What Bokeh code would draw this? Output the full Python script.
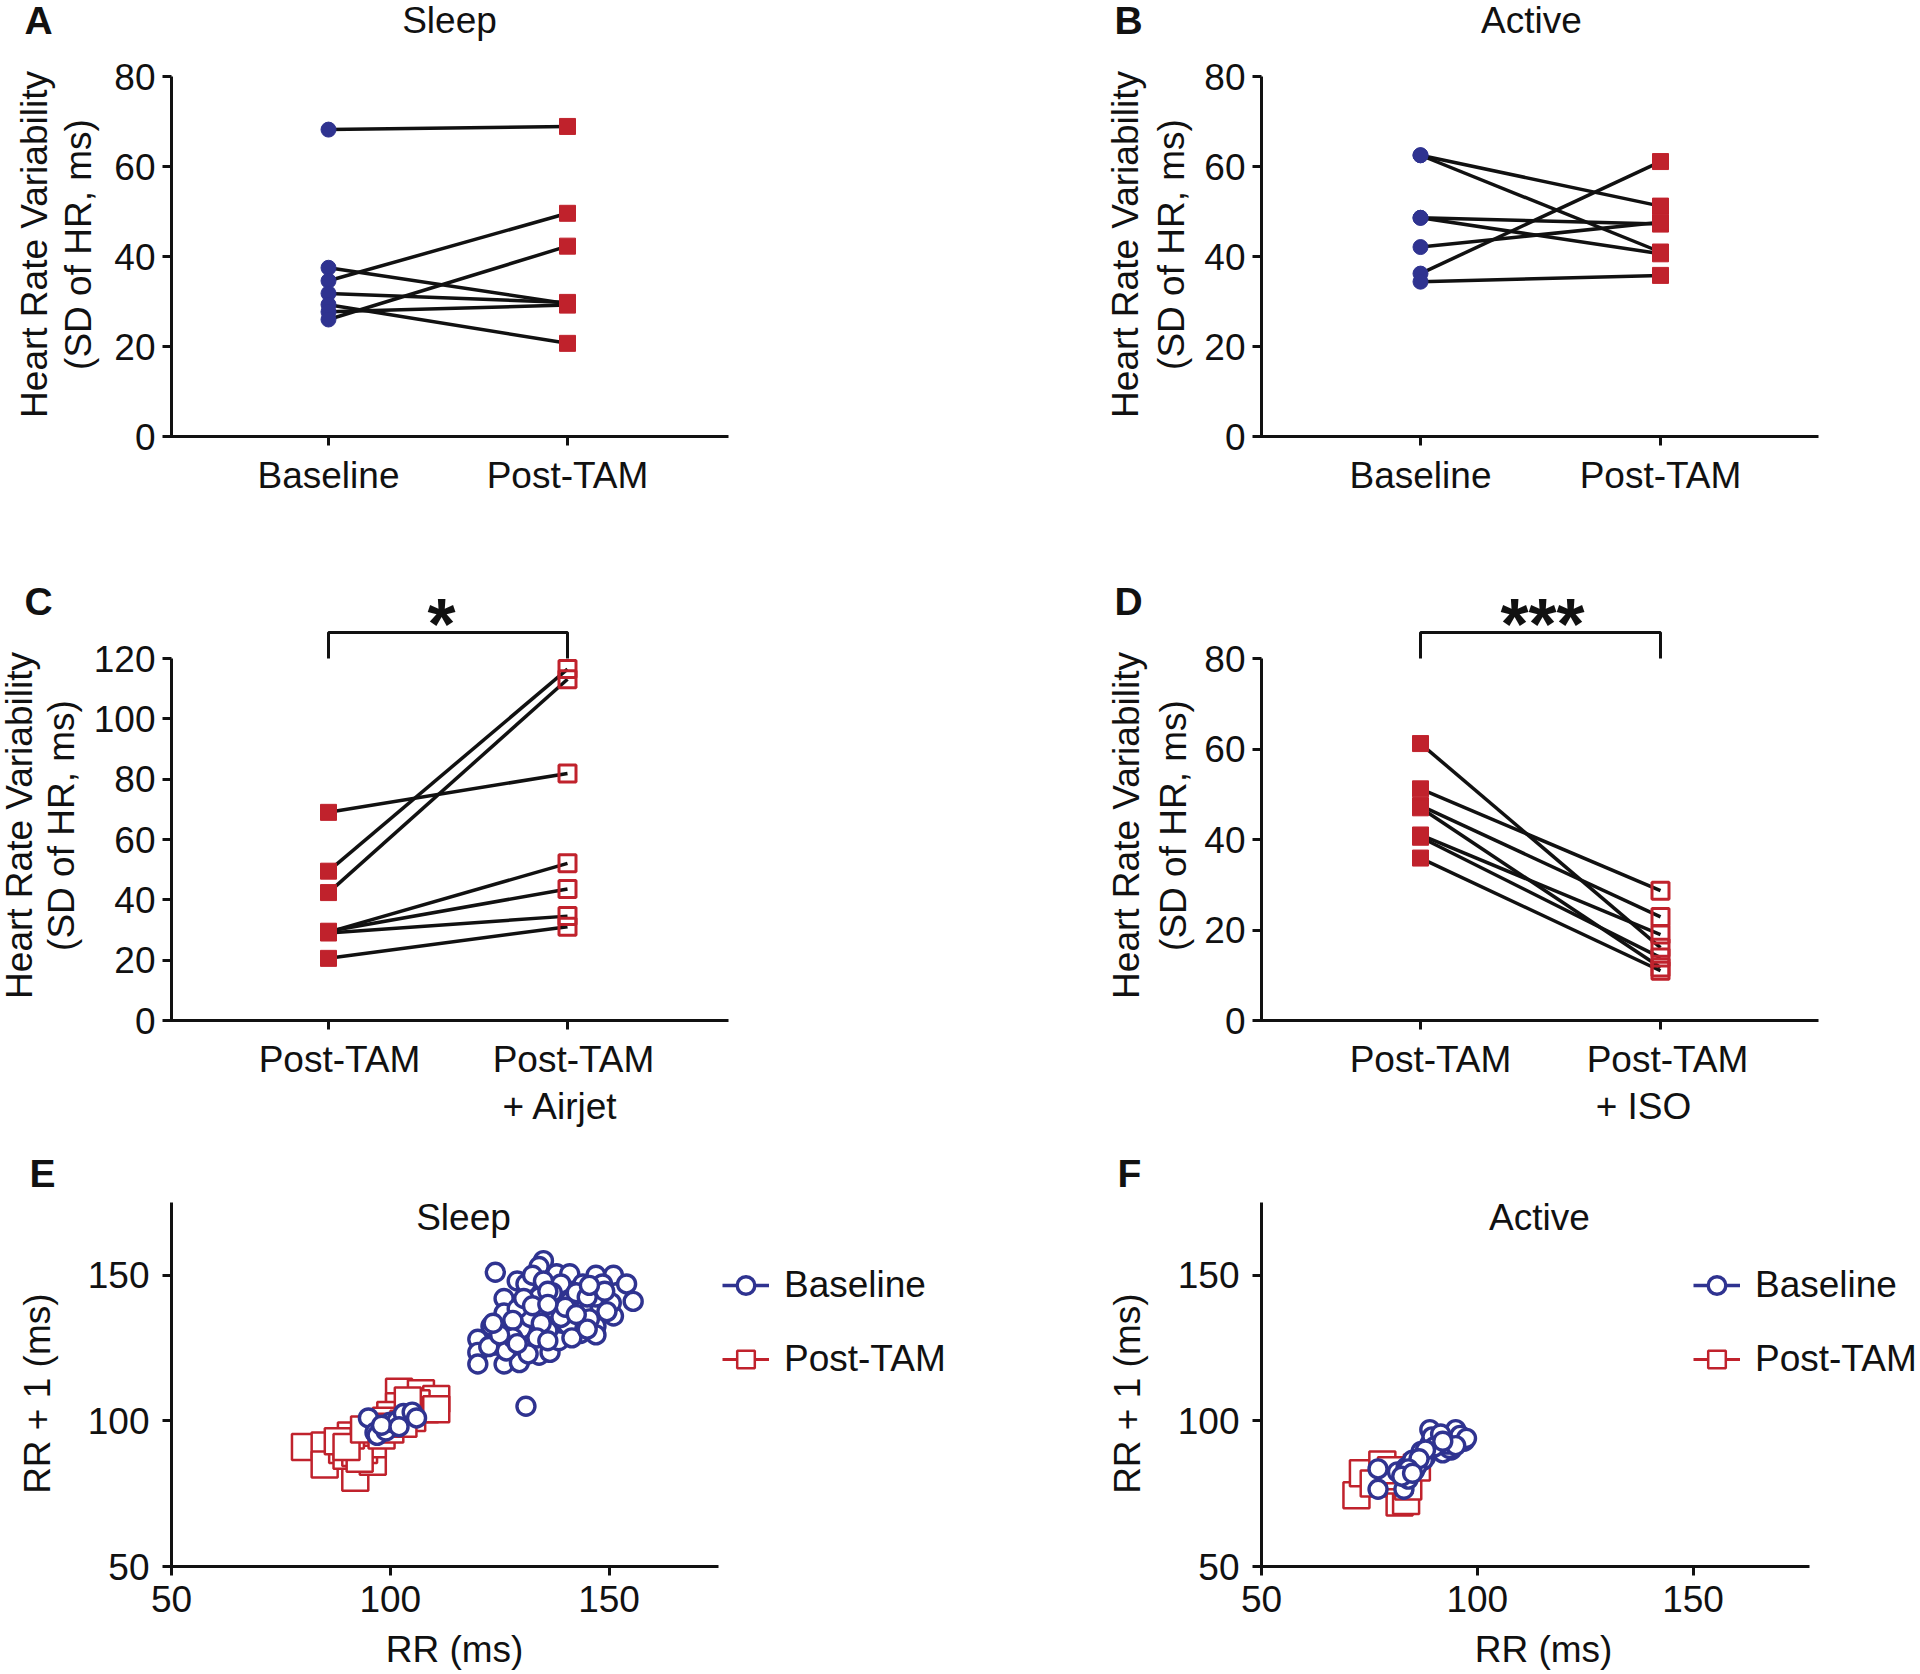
import math
from bokeh.plotting import figure
from bokeh.models import Range1d, FixedTicker, Label, Legend, LegendItem
from bokeh.layouts import column, row
from bokeh.embed import file_html
from bokeh.resources import INLINE

# ---------------- data ----------------
pair_ticks = [1, 2]

# A: Sleep
sleep_labels = ["Baseline", "Post-TAM"]
sleep_base = [68.2, 37.5, 34.6, 31.8, 29.3, 27.7, 26.0]
sleep_post = [68.9, 29.5, 49.6, 29.8, 20.7, 29.2, 42.3]

# B: Active
active_labels = ["Baseline", "Post-TAM"]
active_base = [62.5, 62.5, 48.6, 48.6, 42.1, 36.2, 34.4]
active_post = [51.2, 41.0, 47.2, 40.6, 47.6, 61.1, 35.8]

# C: Post-TAM vs Post-TAM + Airjet
airjet_labels = ["Post-TAM", "Post-TAM", "+ Airjet"]
airjet_pre = [69.0, 49.5, 42.4, 29.3, 29.6, 29.0, 20.6]
airjet_post = [81.9, 116.5, 113.1, 52.1, 43.6, 34.6, 31.1]

# D: Post-TAM vs Post-TAM + ISO
iso_labels = ["Post-TAM", "Post-TAM", "+ ISO"]
iso_pre = [61.2, 51.2, 47.5, 47.0, 41.0, 40.5, 35.9]
iso_post = [16.1, 28.7, 22.9, 11.7, 19.0, 13.9, 11.0]

hrv_ticks_80 = [0, 20, 40, 60, 80]
hrv_ticks_120 = [0, 20, 40, 60, 80, 100, 120]
rr_ticks = [50, 100, 150]

# E: Poincare, Sleep
e_base_x = [124, 135, 134, 138, 141, 147, 151, 154, 155.5, 151, 148.5, 144, 139, 132, 129,
            126, 126, 123, 120, 120, 120, 126, 124, 129.5, 131, 134, 136.5, 138.5, 136, 130,
            132, 129, 134, 137, 141, 144, 147, 147, 147, 143.5, 140.5, 142.5, 145, 150.5, 131,
            132.5, 126.5, 122.5, 134.5, 137.5, 128, 128, 133.5, 139, 140, 145.5, 149.5, 149,
            145.5, 135, 136, 130.5, 132.5, 136, 142.5, 141.5, 145, 136, 131.5, 129, 125, 123.5,
            131,
            95, 96.5, 97, 99, 100, 101.5, 103, 105, 106, 98, 102]
e_base_y = [151, 155, 153, 150.5, 150.5, 150, 150, 147, 141, 136, 147, 147, 147, 147, 148,
            142, 137, 132.5, 128, 123.5, 119.5, 119.5, 126, 120, 126, 122.5, 123.5, 127.5, 131, 131.5,
            135.5, 138.5, 142.5, 144, 141, 138, 142.5, 132.5, 129.5, 130, 133, 144, 142.5, 140.5, 147,
            150, 124, 125.5, 133.5, 138, 134.5, 128.5, 128.5, 135.5, 139, 135, 137.5, 144.5,
            146.5, 148, 144.5, 142, 139.5, 140, 136.5, 128.5, 131.5, 127.5, 123, 126.5, 129.5, 133.5,
            105,
            101, 96, 95, 96.5, 99.5, 100, 102.5, 103, 101, 98.5, 98]
e_post_x = [80.5, 85, 85, 92, 96, 102, 107, 110.5, 102, 108, 105, 100, 99, 97, 95, 93, 91,
            89, 90, 92, 94, 96, 93, 91, 88, 90, 94, 98, 100, 103, 106, 110.5, 104]
e_post_y = [91, 91.5, 85, 80.5, 86, 110, 109.5, 107.5, 105, 104, 101, 102, 100, 98, 96, 94, 92,
            90, 88, 89, 90, 92, 87, 95, 93, 91, 97, 95, 97, 99, 106, 104, 107]

# F: Poincare, Active
f_base_x = [77, 77, 83, 81.5, 83.5, 85, 87, 89, 89, 90.5, 91, 93, 95, 97, 94, 92, 88, 85.5,
            84.5, 84, 95.5, 93.5, 89.5, 87.5, 86, 91.5, 96, 93, 90, 88, 86.5, 84, 82.5, 85,
            97.5, 95, 92]
f_base_y = [83.5, 76.5, 76.5, 82.5, 84, 86.5, 89.5, 92, 97, 93.5, 90.5, 94.5, 97, 93, 90, 89,
            87.5, 83, 81.5, 80, 93.5, 90.5, 94.5, 86.5, 84.5, 95.5, 95, 92, 91, 90, 87, 83.5,
            81, 82, 94, 91.5, 93]
f_post_x = [72, 73.5, 78, 82, 83.5, 84, 82, 78.5, 76, 80, 86]
f_post_y = [74.5, 82, 85, 72, 72.5, 77.5, 79.5, 81, 78.5, 83, 84]

# ---------------- style ----------------
FONT = "Liberation Sans"
FS = "37px"
BLUE = "#2f3390"
RED = "#c0222c"
BLACK = "#111111"
VERT = math.pi / 2
NAN = float("nan")


class Panel:
    """A figure whose frame fills the whole figure; page positions map linearly to data."""

    def __init__(self, fx, fy, W, H, xmap, ymap):
        self.xd0, self.xp0, xd1, xp1 = xmap
        self.xs = (xd1 - self.xd0) / (xp1 - self.xp0)
        self.yd0, self.yp0, yd1, yp1 = ymap
        self.ys = (yd1 - self.yd0) / (yp1 - self.yp0)
        self.p = figure(width=W, height=H, min_border=0,
                        x_range=Range1d(self.dx(fx), self.dx(fx + W)),
                        y_range=Range1d(self.dy(fy + H), self.dy(fy)),
                        output_backend="svg", toolbar_location=None)
        p = self.p
        p.xgrid.visible = False
        p.ygrid.visible = False
        p.outline_line_color = None
        p.border_fill_color = "white"
        p.background_fill_color = "white"

    def dx(self, px):
        return self.xd0 + (px - self.xp0) * self.xs

    def dy(self, py):
        return self.yd0 + (py - self.yp0) * self.ys

    def text(self, t, px, py, size=FS, bold=False, angle=0.0, align="center",
             baseline="middle"):
        self.p.add_layout(Label(x=self.dx(px), y=self.dy(py), text=t, angle=angle,
                                text_font=FONT, text_font_size=size,
                                text_font_style="bold" if bold else "normal",
                                text_align=align, text_baseline=baseline,
                                text_color=BLACK))

    def axes(self, xticks, yticks, xloc, yloc, xbounds, ybounds, xoverrides=None,
             xlbl_standoff=9, ylbl_standoff=7):
        p = self.p
        p.xaxis.ticker = FixedTicker(ticks=xticks)
        p.yaxis.ticker = FixedTicker(ticks=yticks)
        if xoverrides:
            p.xaxis.major_label_overrides = xoverrides
        p.xaxis.fixed_location = xloc
        p.yaxis.fixed_location = yloc
        p.xaxis.bounds = xbounds
        p.yaxis.bounds = ybounds
        for ax in (p.xaxis[0], p.yaxis[0]):
            ax.axis_line_width = 3
            ax.axis_line_color = BLACK
            ax.major_tick_line_width = 3
            ax.major_tick_line_color = BLACK
            ax.major_tick_out = 9
            ax.major_tick_in = 0
            ax.minor_tick_line_color = None
            ax.major_label_text_font = FONT
            ax.major_label_text_font_size = FS
            ax.major_label_text_color = BLACK
        p.yaxis.major_label_standoff = ylbl_standoff
        p.xaxis.major_label_standoff = xlbl_standoff


def pair_panel(fx, fy, W, H, tick_px, ymap, pre, post, labels, ymax, yticks,
               pre_kind, post_kind, axis_px, xend_px, ylab_px, ylab_py, label_pos=None):
    pn = Panel(fx, fy, W, H, (pair_ticks[0], tick_px[0], pair_ticks[1], tick_px[1]), ymap)
    p = pn.p
    for a, b in zip(pre, post):
        p.line(x=pair_ticks, y=[a, b], line_color=BLACK, line_width=3.5)
    xs_pre = [pair_ticks[0]] * len(pre)
    xs_post = [pair_ticks[1]] * len(post)
    for xs, ys, kind in ((xs_pre, pre, pre_kind), (xs_post, post, post_kind)):
        if kind == "circle":
            p.scatter(x=xs, y=ys, marker="circle", size=15, fill_color=BLUE,
                      line_color=BLUE, line_width=1)
        elif kind == "square":
            p.scatter(x=xs, y=ys, marker="square", size=16, fill_color=RED,
                      line_color=RED, line_width=1)
        else:
            p.scatter(x=xs, y=ys, marker="square", size=17, fill_color="white",
                      fill_alpha=0.0, line_color=RED, line_width=3)
    x0 = pn.dx(axis_px)
    if label_pos is None:
        overrides = {pair_ticks[0]: labels[0], pair_ticks[1]: labels[1]}
    else:
        overrides = {pair_ticks[0]: "", pair_ticks[1]: ""}
    pn.axes(pair_ticks, yticks, 0, x0, (pn.dx(axis_px - 6), pn.dx(xend_px)), (0, ymax),
            xoverrides=overrides)
    if label_pos is not None:
        for t, (lx, ly) in zip(labels, label_pos):
            pn.text(t, lx, ly)
    pn.text("Heart Rate Variability", ylab_px[0], ylab_py, angle=VERT)
    pn.text("(SD of HR, ms)", ylab_px[1], ylab_py, angle=VERT)
    return pn


def bracket(pn, ybase, ybar_px, stars, star_px, star_py):
    ytop = pn.dy(ybar_px)
    pn.p.line(x=[pair_ticks[0], pair_ticks[0], pair_ticks[1], pair_ticks[1]],
              y=[ybase, ytop, ytop, ybase], line_color=BLACK, line_width=3)
    pn.text(stars, star_px, star_py, size="72px", bold=True, baseline="alphabetic")


def scatter_panel(fx, fy, W, H, xmap, bx, by, rx, ry, xmax, axis_px,
                  title, title_px, leg_x, ylab_px, xlab_px):
    pn = Panel(fx, fy, W, H, xmap, (50, 1566, 150, 1274.7))
    p = pn.p
    sr = p.scatter(x=rx, y=ry, marker="square", size=26, fill_color="white",
                   line_color=RED, line_width=2.5)
    sb = p.scatter(x=bx, y=by, marker="circle", size=18, fill_color="white",
                   line_color=BLUE, line_width=3.4)
    lb = p.line(x=[NAN], y=[NAN], line_color=BLUE, line_width=3.4)
    lr = p.line(x=[NAN], y=[NAN], line_color=RED, line_width=3)
    pn.axes(rr_ticks, rr_ticks, 50, 50, (pn.dx(axis_px - 6), xmax), (50, 175),
            xlbl_standoff=10, ylbl_standoff=13)
    pn.text(title, title_px, 1217)
    pn.text("RR + 1  (ms)", ylab_px, 1388, angle=VERT)
    pn.text("RR (ms)", xlab_px, 1649)
    leg = Legend(items=[LegendItem(label="Baseline", renderers=[lb, sb]),
                        LegendItem(label="Post-TAM", renderers=[lr, sr])],
                 location=(leg_x, 291), orientation="vertical",
                 border_line_color=None, background_fill_alpha=0.0,
                 padding=0, margin=0, spacing=30, glyph_width=47, glyph_height=44,
                 label_standoff=15, label_text_font=FONT, label_text_font_size=FS,
                 label_text_baseline="middle", label_text_color=BLACK)
    p.add_layout(leg)
    return pn


# Row 1 (page y 0..578)
yA = (0, 436, 80, 76)
pA = pair_panel(0, 0, 1090, 578, (328, 567), yA, sleep_base, sleep_post, sleep_labels,
                80, hrv_ticks_80, "circle", "square", 171, 728, (34, 78), 244)
pA.text("A", 38, 20, size="39px", bold=True)
pA.text("Sleep", 449, 20)
pB = pair_panel(1090, 0, 830, 578, (1420, 1660), yA, active_base, active_post, active_labels,
                80, hrv_ticks_80, "circle", "square", 1261, 1818, (1125, 1171), 244)
pB.text("B", 1128, 20, size="39px", bold=True)
pB.text("Active", 1531, 20)

# Row 2 (page y 578..1150)
pC = pair_panel(0, 578, 1090, 572, (328, 567), (0, 1020, 120, 658), airjet_pre, airjet_post,
                airjet_labels, 120, hrv_ticks_120, "square", "open", 171, 728, (19, 61), 825,
                label_pos=[(339, 1059), (573, 1059), (560, 1106)])
pC.text("C", 38, 601, size="39px", bold=True)
bracket(pC, 120, 632, "*", 441, 623)
pD = pair_panel(1090, 578, 830, 572, (1420, 1660), (0, 1020, 80, 658), iso_pre, iso_post,
                iso_labels, 80, hrv_ticks_80, "square", "open", 1261, 1818, (1126, 1173), 825,
                label_pos=[(1430, 1059), (1667, 1059), (1643, 1106)])
pD.text("D", 1128, 601, size="39px", bold=True)
bracket(pD, 80, 632, "***", 1542, 623)

# Row 3 (page y 1150..1672)
pE = scatter_panel(0, 1150, 1090, 522, (50, 171, 150, 608.6), e_base_x, e_base_y,
                   e_post_x, e_post_y, 175, 171, "Sleep", 463, 722, 37, 454)
pE.text("E", 42, 1173, size="39px", bold=True)
pF = scatter_panel(1090, 1150, 830, 522, (50, 1261, 100, 1476.8), f_base_x, f_base_y,
                   f_post_x, f_post_y, 177, 1261, "Active", 1539, 603, 1127, 1543)
pF.text("F", 1129, 1173, size="39px", bold=True)

layout = column(row(pA.p, pB.p), row(pC.p, pD.p), row(pE.p, pF.p))
open("out.html", "w").write(file_html(layout, INLINE))
